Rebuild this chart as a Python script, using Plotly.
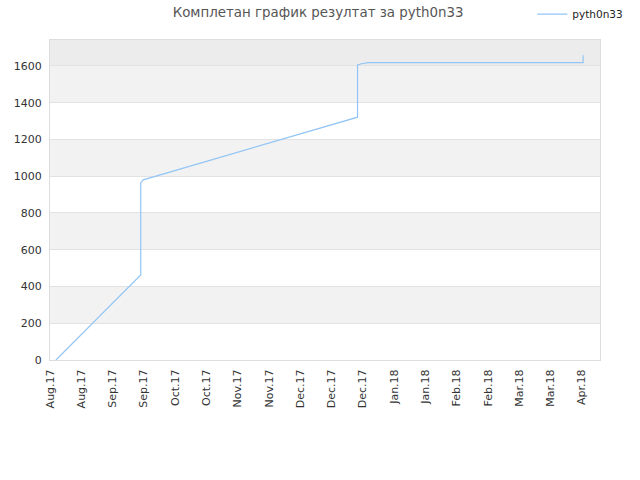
import plotly.graph_objects as go

# positions are in tick-label units (0 = first "Aug.17" tick)
pos = [0.19, 2.90, 2.90, 2.98, 9.83, 9.83, 9.96, 10.17, 17.04, 17.04]
score = [0, 463, 965, 980, 1321, 1605, 1612, 1618, 1618, 1658]

tick_labels = ["Aug.17", "Aug.17", "Sep.17", "Sep.17", "Oct.17", "Oct.17",
               "Nov.17", "Nov.17", "Dec.17", "Dec.17", "Dec.17", "Jan.18",
               "Jan.18", "Feb.18", "Feb.18", "Mar.18", "Mar.18", "Apr.18"]
y_ticks = [0, 200, 400, 600, 800, 1000, 1200, 1400, 1600]
y_top = 1741

title = "Комплетан график резултат за pyth0n33"
font = "DejaVu Sans, sans-serif"

fig = go.Figure()
fig.add_trace(go.Scatter(x=pos, y=score, mode="lines", name="pyth0n33",
                         line=dict(color="#92c5f5", width=1.2)))

# alternating background bands
shapes = []
for lo in [200, 600, 1000, 1400]:
    shapes.append(dict(type="rect", xref="paper", yref="y", x0=0, x1=1, y0=lo, y1=lo + 200,
                       fillcolor="#f2f2f2", line_width=0, layer="below"))
shapes.append(dict(type="rect", xref="paper", yref="y", x0=0, x1=1, y0=1600, y1=y_top,
                   fillcolor="#ececec", line_width=0, layer="below"))

fig.update_layout(
    width=640, height=480,
    margin=dict(l=50, r=40, t=40, b=120, autoexpand=False),
    paper_bgcolor="white", plot_bgcolor="white",
    font=dict(family=font, size=11, color="#333333"),
    title=dict(text=title, x=0.497, xanchor="center", y=0.975, yanchor="middle",
               font=dict(family=font, size=13.4, color="#555555")),
    showlegend=True,
    legend=dict(x=0.877, y=1.081, xanchor="left", yanchor="middle",
                bgcolor="rgba(0,0,0,0)", font=dict(size=10.5, color="#222222")),
    shapes=shapes,
    xaxis=dict(range=[0, 17.58], tickvals=list(range(len(tick_labels))), ticktext=tick_labels,
               tickangle=-90, showgrid=False, zeroline=False, showline=True, automargin=False,
               linecolor="#dddddd", mirror=True, ticks="", ticklen=0, ticklabelstandoff=4),
    yaxis=dict(range=[0, y_top], tickvals=y_ticks, showgrid=True, gridcolor="#e2e2e2",
               zeroline=False, showline=True, linecolor="#dddddd", mirror=True, ticks="",
               automargin=False, ticklabelstandoff=5),
)

# drop the default page margin so the figure sits at the window's corner
fig.write_html("out.html", config={"displayModeBar": False},
               post_script="document.body.style.margin = '0';")
